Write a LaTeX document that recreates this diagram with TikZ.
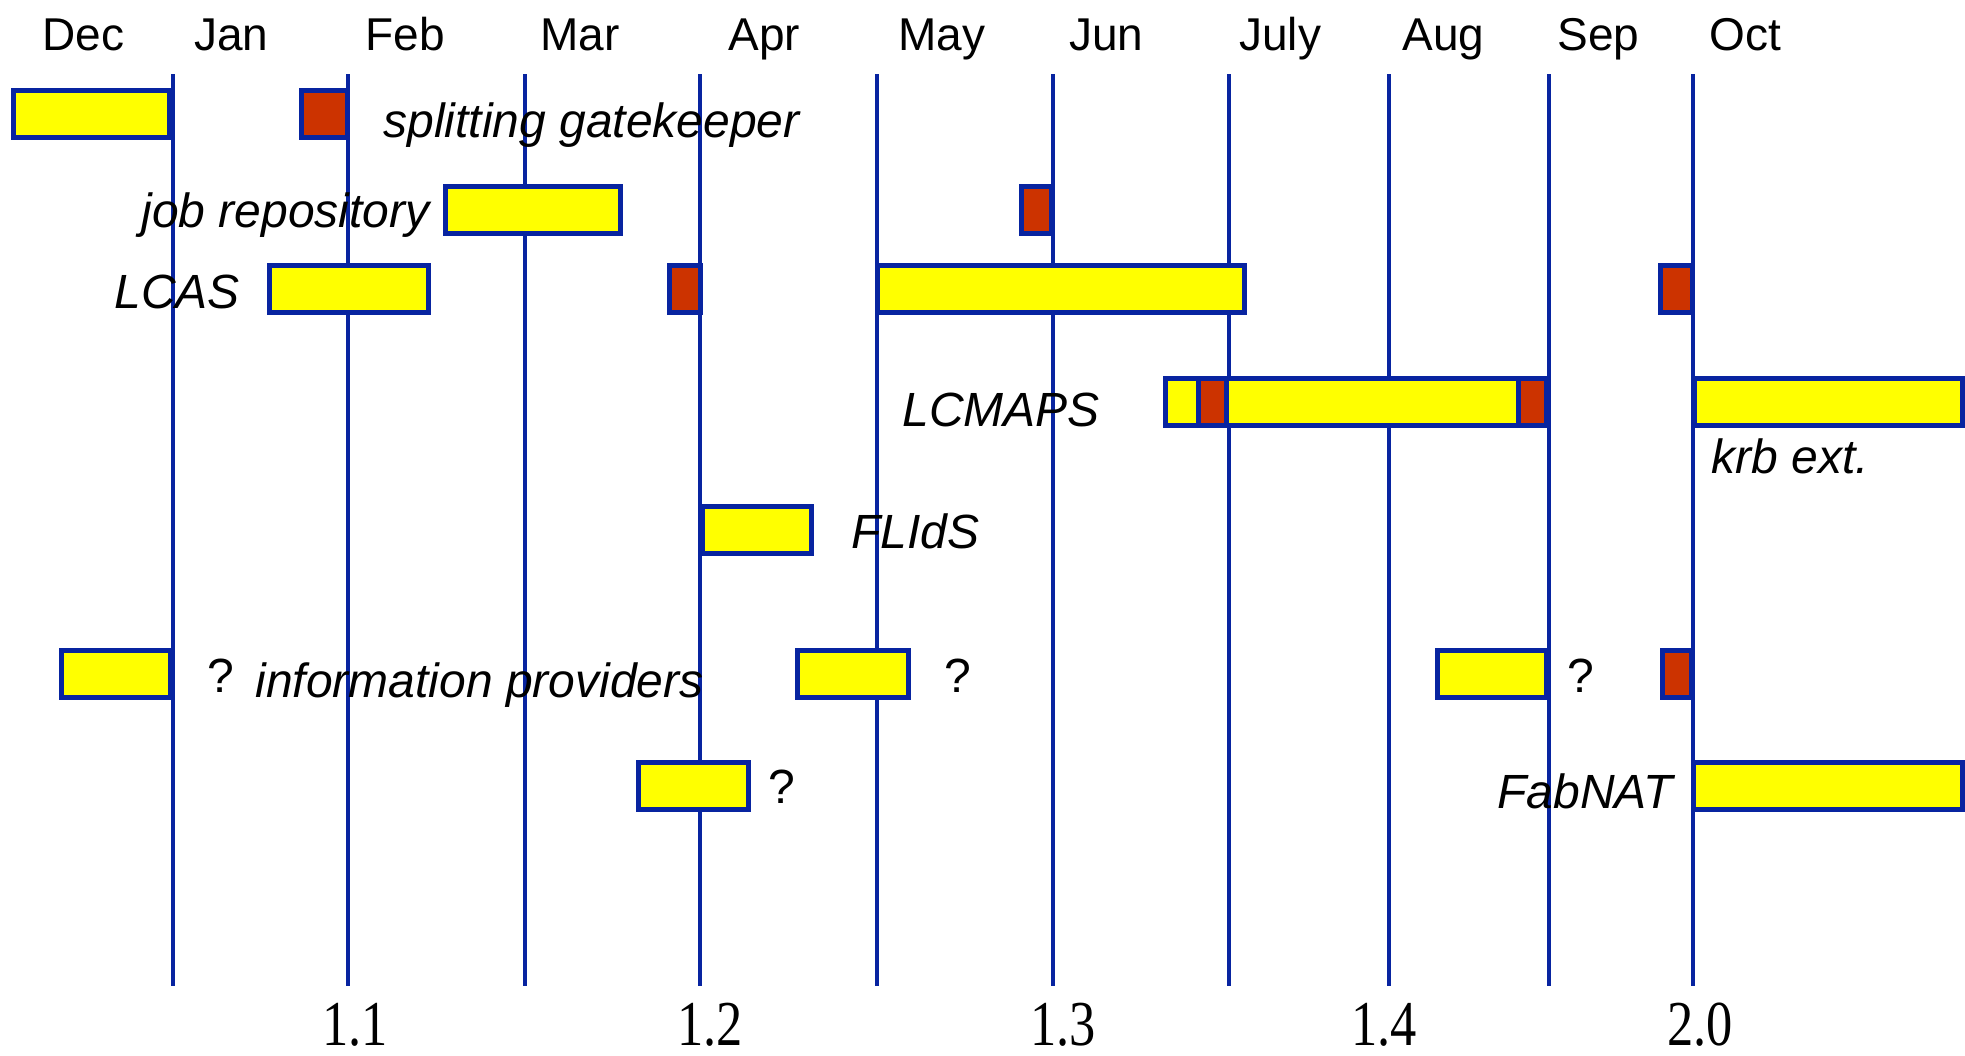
\documentclass[tikz,border=0pt]{standalone}
\usepackage{fontspec}
\usepackage{graphicx}
\setmainfont{Liberation Sans}
\newfontfamily\verfont{Liberation Serif}
\definecolor{gridblue}{RGB}{8,36,160}
\definecolor{planyellow}{RGB}{255,255,0}
\definecolor{fixred}{RGB}{204,51,0}

\begin{document}
\begin{tikzpicture}[x=0.5pt, y=-0.5pt,
  every node/.style = {inner sep=0pt, font=\fontsize{23}{27}\selectfont},
  month/.style = {anchor=base west},
  task/.style = {anchor=base west, font=\fontsize{24}{28}\selectfont\itshape},
  query/.style = {anchor=base west, font=\fontsize{24}{28}\selectfont},
  release/.style = {anchor=base, font=\verfont\fontsize{32}{36}\selectfont},
  tick/.style = {draw=gridblue, line width=2pt},
  plan/.style = {draw=gridblue, fill=planyellow, line width=2.5pt},
  fix/.style = {draw=gridblue, fill=fixred, line width=2.5pt}]
  \useasboundingbox (0,0) rectangle (1965,1055);
  % month grid
  \foreach \x in {173,348,525,700,877,1053,1229,1389,1549,1693}
    \draw[tick] (\x,74) -- (\x,986);
  \foreach \x/\m in {42/Dec,194/Jan,365/Feb,540/Mar,728/Apr,898/May,
                     1069/Jun,1239/July,1402/Aug,1557/Sep,1709/Oct}
    \node[month] (\m) at (\x,50) {\m};
  % releases
  \foreach \x/\v [count=\i] in {355/1.1,710/1.2,1063/1.3,1384/1.4,1700/2.0}
    \node[release] (rel\i) at (\x,1045) {\scalebox{0.82}[1]{\v}};
  % planned work
  \foreach \a/\b/\y in {11/172/113.5, 443/623/209.5, 267/431/289, 875/1247/289,
                        1163/1549/402, 1692/1965/402, 700/814/529.5,
                        59/173/674, 795/911/674, 1435/1549/674,
                        636/751/786, 1691/1965/786}
    \draw[plan] ({\a+2.5},{\y-23.5}) rectangle ({\b-2.5},{\y+23.5});
  % fixes
  \foreach \a/\b/\y in {299/350/113.5, 1019/1054/209.5, 667/703/289,
                        1658/1695/289, 1196/1229/402, 1516/1549/402,
                        1660/1694/674}
    \draw[fix] ({\a+2.5},{\y-23.5}) rectangle ({\b-2.5},{\y+23.5});
  % labels
  \node[task] (gatekeeper) at (383,137) {splitting gatekeeper};
  \node[task] (jobrepo) at (141,227) {job repository};
  \node[task] (lcas) at (114,308) {LCAS};
  \node[task] (lcmaps) at (902,426) {LCMAPS};
  \node[task] (krb) at (1711,473) {krb ext.};
  \node[task] (flids) at (851,548) {FLIdS};
  \node[task] (infoprov) at (255,697) {information providers};
  \node[task] (fabnat) at (1497,808) {FabNAT};
  \node[query] (q1) at (207,692) {?};
  \node[query] (q2) at (944,692) {?};
  \node[query] (q3) at (1567,692) {?};
  \node[query] (q4) at (768,803) {?};
\end{tikzpicture}
\end{document}
